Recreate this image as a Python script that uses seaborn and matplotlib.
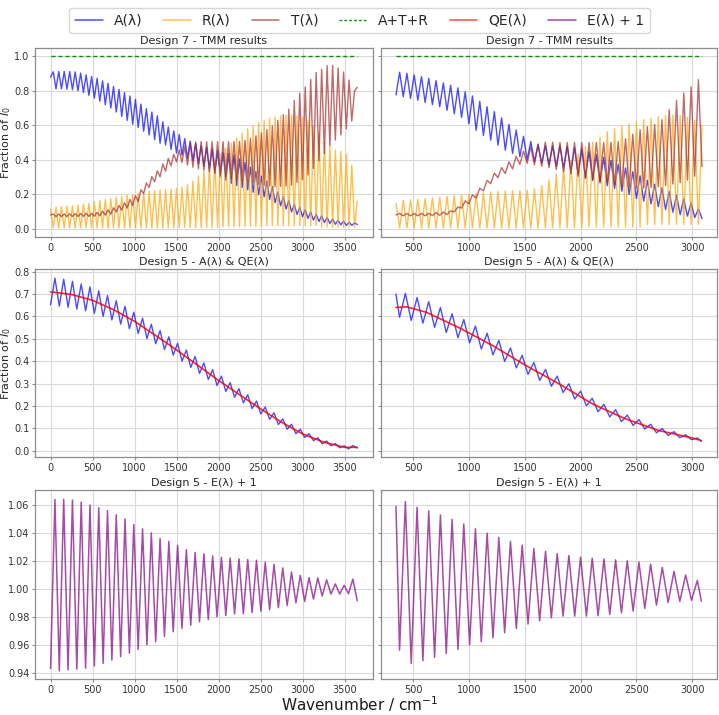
import numpy as np
import matplotlib
matplotlib.use("Agg")
import matplotlib.pyplot as plt
import seaborn as sns
from matplotlib.lines import Line2D

# ---------------- Design 7 (TMM) - left panel, 0..3650 cm-1 ----------------
# values read at successive fringe extrema (odd = A/T peak, R trough; even = A/T trough, R peak)
d7L_span = [0, 3650]
d7L_npts = 113
A7L_start, A7L_end = 0.88, 0.025
A7L_peaks = [.910, .912, .912, .912, .910, .903, .893, .883, .872, .858, .844, .825, .808, .790,
             .770, .750, .723, .697, .677, .655, .620, .590, .568, .547, .523, .508, .495, .481,
             .472, .462, .452, .444, .436, .428, .405, .385, .357, .333, .305, .277, .245, .213,
             .186, .164, .142, .125, .111, .097, .085, .075, .066, .057, .050, .044, .038, .034]
A7L_troughs = [.811, .811, .810, .806, .800, .790, .774, .757, .740, .719, .700, .677, .652, .629,
               .606, .588, .566, .544, .517, .496, .486, .460, .439, .427, .408, .396, .380, .364,
               .345, .323, .303, .283, .264, .251, .240, .226, .212, .198, .185, .170, .151, .133,
               .115, .098, .083, .070, .060, .050, .042, .036, .030, .026, .023, .020, .020]
R7L_start, R7L_end = 0.115, 0.16
R7L_troughs = [.005, .005, .005, .005, .005, .005, .005, .005, .005, .005, .005, .005, .005, .005,
               .005, .005, .005, .005, .005, .005, .005, .005, .005, .008, .008, .008, .008, .008,
               .008, .008, .008, .012, .012, .012, .012, .012, .012, .012, .012, .018, .018, .018,
               .018, .018, .018, .018, .018, .018, .018, .010, .010, .010, .010, .010, .010, .010]
R7L_peaks = [.125, .128, .131, .134, .138, .143, .148, .155, .163, .169, .175, .182, .188, .193,
             .198, .203, .209, .216, .221, .225, .228, .231, .235, .241, .255, .275, .305, .335,
             .365, .400, .435, .465, .495, .527, .555, .580, .598, .615, .628, .640, .648, .655,
             .658, .660, .655, .645, .628, .598, .555, .505, .472, .456, .448, .430, .370]
T7L_start, T7L_end = 0.08, 0.82
T7L_peaks = [.085, .086, .086, .087, .088, .089, .090, .090, .094, .102, .110, .122, .135, .151,
             .170, .192, .226, .266, .302, .336, .376, .408, .432, .458, .480, .496, .503, .505,
             .505, .505, .505, .505, .505, .505, .506, .512, .524, .539, .556, .575, .597, .628,
             .662, .694, .744, .787, .822, .866, .906, .925, .946, .947, .932, .909, .862, .800]
T7L_troughs = [.070, .070, .070, .071, .071, .072, .072, .073, .075, .079, .085, .098, .108, .120,
               .135, .158, .205, .240, .272, .302, .334, .365, .388, .384, .370, .357, .348, .340,
               .332, .322, .312, .302, .292, .285, .280, .274, .266, .258, .252, .248, .245, .246,
               .248, .253, .268, .285, .312, .350, .395, .435, .480, .515, .545, .580, .625]

# ---------------- Design 7 (TMM) - right panel, 345..3089 cm-1 ----------------
d7R_span = [345, 3089]
d7R_npts = 85
A7R_start, A7R_end = 0.776, 0.06
A7R_peaks = [.908, .901, .892, .882, .872, .859, .846, .832, .817, .794, .770, .739, .708, .679,
             .643, .605, .573, .536, .506, .487, .481, .480, .479, .476, .470, .461, .447, .430,
             .414, .397, .374, .353, .331, .307, .281, .258, .237, .216, .195, .174, .150, .115]
A7R_troughs = [.766, .756, .745, .733, .720, .707, .687, .667, .646, .609, .571, .541, .514, .485,
               .456, .437, .418, .400, .389, .380, .371, .362, .350, .335, .315, .296, .281, .266,
               .250, .234, .218, .199, .176, .160, .144, .128, .112, .096, .082, .073, .065]
R7R_start, R7R_end = 0.147, 0.60
R7R_troughs = [.005, .005, .005, .005, .005, .005, .005, .005, .005, .005, .005, .005, .005, .005,
               .005, .005, .005, .005, .005, .005, .005, .005, .005, .005, .005, .005, .010, .010,
               .010, .010, .010, .010, .010, .010, .025, .025, .025, .025, .025, .025, .025, .025]
R7R_peaks = [.165, .168, .171, .175, .179, .183, .188, .192, .196, .200, .204, .209, .214, .217,
             .219, .220, .222, .224, .232, .250, .282, .318, .360, .397, .434, .476, .503, .532,
             .563, .581, .596, .608, .620, .633, .641, .650, .657, .660, .657, .645, .630]
T7R_start, T7R_end = 0.08, 0.36
T7R_peaks = [.089, .089, .089, .090, .090, .094, .097, .104, .126, .162, .197, .235, .280, .322,
             .355, .388, .420, .450, .476, .492, .503, .502, .500, .500, .500, .500, .500, .500,
             .500, .501, .505, .522, .549, .574, .592, .605, .632, .690, .744, .788, .823, .865]
T7R_troughs = [.075, .075, .075, .075, .076, .078, .083, .098, .120, .145, .178, .220, .262, .297,
               .320, .347, .373, .380, .370, .362, .354, .344, .331, .318, .305, .291, .284, .276,
               .267, .256, .248, .241, .235, .236, .239, .244, .251, .259, .267, .282, .305]
ATR_value = [1.0, 1.0]

# ---------------- Design 5 - left, 0..3650 cm-1 ----------------
d5L_span = [0, 3650]
d5L_npts = 71
A5L_start, A5L_end = 0.652, 0.012
A5L_peaks = [.771, .766, .757, .745, .732, .714, .693, .670, .645, .619, .592, .565, .537, .509,
             .480, .450, .421, .392, .362, .333, .304, .277, .250, .222, .195, .169, .142, .118,
             .095, .076, .058, .043, .032, .022, .023]
A5L_troughs = [.646, .641, .633, .625, .614, .600, .584, .566, .545, .524, .501, .478, .452, .427,
               .400, .372, .345, .318, .291, .265, .239, .214, .188, .164, .140, .117, .096, .076,
               .059, .045, .031, .022, .013, .008]
QE5L_x = [0, 250, 500, 750, 1000, 1250, 1500, 1750, 2000, 2250, 2500, 2750, 3000, 3250, 3500, 3650]
QE5L = [0.710, 0.698, 0.672, 0.630, 0.578, 0.515, 0.450, 0.382, 0.314, 0.250, 0.187, 0.127,
        0.075, 0.038, 0.015, 0.015]
E5L_start, E5L_end = 0.943, 0.9915
E5L_peaks = [1.064, 1.064, 1.0635, 1.062, 1.060, 1.058, 1.056, 1.053, 1.050, 1.046, 1.043, 1.040,
             1.036, 1.034, 1.031, 1.028, 1.026, 1.025, 1.0235, 1.0225, 1.022, 1.0215, 1.021,
             1.0205, 1.019, 1.0175, 1.015, 1.012, 1.0097, 1.008, 1.0078, 1.0065, 1.0035, 1.0025,
             1.007]
E5L_troughs = [0.9414, 0.942, 0.9426, 0.9433, 0.9448, 0.9467, 0.949, 0.9515, 0.954, 0.9567, 0.960,
               0.9622, 0.966, 0.9693, 0.9717, 0.974, 0.9765, 0.978, 0.980, 0.981, 0.982, 0.9822,
               0.983, 0.984, 0.985, 0.9865, 0.988, 0.990, 0.991, 0.9927, 0.9949, 0.9963, 0.9963,
               0.9965]

# ---------------- Design 5 - right, 345..3083 cm-1 ----------------
d5R_ends = [345, 3083]
d5R_extrema_span = [377, 3047]
d5R_nextrema = 52
A5R_start, A5R_end = 0.700, 0.042
A5R_troughs = [.596, .582, .570, .551, .528, .505, .482, .454, .428, .399, .370, .341, .314, .288,
               .260, .231, .201, .174, .151, .130, .113, .097, .080, .068, .058, .049]
A5R_peaks = [.703, .684, .666, .640, .612, .586, .557, .525, .493, .459, .426, .394, .363, .333,
             .299, .266, .234, .207, .183, .159, .139, .118, .099, .085, .071, .057]
QE5R_x = [345, 440, 619, 917, 1214, 1512, 1810, 2107, 2405, 2702, 3000, 3083]
QE5R = [0.640, 0.643, 0.618, 0.548, 0.469, 0.380, 0.298, 0.209, 0.142, 0.090, 0.057, 0.045]
E5R_start, E5R_end = 1.059, 0.9913
E5R_troughs = [0.9562, 0.9467, 0.9486, 0.951, 0.9538, 0.9567, 0.960, 0.9622, 0.965, 0.9686,
               0.9717, 0.9748, 0.9772, 0.9793, 0.9805, 0.9805, 0.9805, 0.9808, 0.9817, 0.9829,
               0.9841, 0.986, 0.9884, 0.9903, 0.991, 0.9918]
E5R_peaks = [1.0624, 1.0583, 1.0557, 1.0528, 1.0497, 1.0464, 1.043, 1.0398, 1.0368, 1.034,
             1.0312, 1.0288, 1.0268, 1.0252, 1.0238, 1.0227, 1.0219, 1.0213, 1.0207, 1.02,
             1.0191, 1.0176, 1.0153, 1.0125, 1.0099, 1.006]

titles = ["Design 7 - TMM results", "Design 5 - A(λ) & QE(λ)", "Design 5 - E(λ) + 1"]
legend_labels = ["A(λ)", "R(λ)", "T(λ)", "A+T+R", "QE(λ)", "E(λ) + 1"]
left_ticks = [0, 500, 1000, 1500, 2000, 2500, 3000, 3500]
right_ticks = [500, 1000, 1500, 2000, 2500, 3000]


def weave(start, odd, even, end):
    out = [start]
    for i, v in enumerate(odd):
        out.append(v)
        if i < len(even):
            out.append(even[i])
    out.append(end)
    return np.array(out)


x7L = np.linspace(d7L_span[0], d7L_span[1], d7L_npts)
x7R = np.linspace(d7R_span[0], d7R_span[1], d7R_npts)
x5L = np.linspace(d5L_span[0], d5L_span[1], d5L_npts)
x5R = np.concatenate([[d5R_ends[0]],
                      np.linspace(d5R_extrema_span[0], d5R_extrema_span[1], d5R_nextrema),
                      [d5R_ends[1]]])

sns.set_theme(style="whitegrid", rc={
    "axes.edgecolor": "0.55", "axes.linewidth": 0.9,
    "grid.color": "0.85", "grid.linewidth": 0.8,
    "xtick.bottom": True, "ytick.left": True,
    "xtick.major.size": 2.5, "ytick.major.size": 2.5,
    "xtick.major.width": 0.8, "ytick.major.width": 0.8,
    "xtick.color": "0.55", "ytick.color": "0.55",
    "xtick.labelcolor": "0.2", "ytick.labelcolor": "0.2",
    "xtick.major.pad": 1.5, "ytick.major.pad": 1.5,
    "xtick.labelsize": 7, "ytick.labelsize": 7,
})
plt.rcParams["font.family"] = ["DejaVu Sans"]

C_A, C_R, C_T, C_G, C_QE, C_E = "#0000ff", "#ffa500", "#a52a2a", "#008000", "#ff0000", "#800080"
AL = 0.7

fig = plt.figure(figsize=(7.19, 7.15), dpi=100)
W, H = 719.0, 715.0
cols = [(35.2, 372.6), (380.7, 717.3)]
rows = [(47.7, 237.4), (269.3, 457.4), (490.0, 679.3)]
axes = [[None, None] for _ in range(3)]
for r, (yt, yb) in enumerate(rows):
    for c, (xl, xr) in enumerate(cols):
        axes[r][c] = fig.add_axes([xl / W, 1 - yb / H, (xr - xl) / W, (yb - yt) / H])


def line(ax, x, y, color, lw=1.0, alpha=AL, **kw):
    sns.lineplot(x=np.asarray(x, float), y=np.asarray(y, float), ax=ax, color=color,
                 linewidth=lw, alpha=alpha, estimator=None, sort=False, legend=False, **kw)


# Row 1: Design 7
for c, (x, A, R, T, span) in enumerate([
    (x7L, weave(A7L_start, A7L_peaks, A7L_troughs, A7L_end),
     weave(R7L_start, R7L_troughs, R7L_peaks, R7L_end),
     weave(T7L_start, T7L_peaks, T7L_troughs, T7L_end), d7L_span),
    (x7R, weave(A7R_start, A7R_peaks, A7R_troughs, A7R_end),
     weave(R7R_start, R7R_troughs, R7R_peaks, R7R_end),
     weave(T7R_start, T7R_peaks, T7R_troughs, T7R_end), d7R_span)]):
    ax = axes[0][c]
    line(ax, x, A, C_A)
    line(ax, x, R, C_R)
    line(ax, x, T, C_T)
    line(ax, span, ATR_value, C_G, lw=1.0, alpha=0.9, linestyle=(0, (3, 2)))
    ax.set_ylim(-0.05, 1.05)
    ax.set_yticks([0.0, 0.2, 0.4, 0.6, 0.8, 1.0])

# Row 2: Design 5 A & QE
line(axes[1][0], x5L, weave(A5L_start, A5L_peaks, A5L_troughs, A5L_end), C_A)
line(axes[1][0], QE5L_x, QE5L, C_QE, lw=1.2, alpha=0.85)
line(axes[1][1], x5R, weave(A5R_start, A5R_troughs, A5R_peaks, A5R_end), C_A)
line(axes[1][1], QE5R_x, QE5R, C_QE, lw=1.2, alpha=0.85)
for ax in axes[1]:
    ax.set_ylim(-0.03, 0.8105)
    ax.set_yticks([0.0, 0.1, 0.2, 0.3, 0.4, 0.5, 0.6, 0.7, 0.8])

# Row 3: Design 5 E + 1
line(axes[2][0], x5L, weave(E5L_start, E5L_peaks, E5L_troughs, E5L_end), C_E, lw=1.1)
line(axes[2][1], x5R, weave(E5R_start, E5R_troughs, E5R_peaks, E5R_end), C_E, lw=1.1)
for ax in axes[2]:
    ax.set_ylim(0.9353, 1.0707)
    ax.set_yticks([0.94, 0.96, 0.98, 1.00, 1.02, 1.04, 1.06])

for r in range(3):
    for c in range(2):
        ax = axes[r][c]
        ax.set_xlabel("")
        ax.set_ylabel("")
        ax.set_title(titles[r], fontsize=8, pad=3, color="0.15")
        if c == 0:
            ax.set_xlim(-182.5, 3832.5)
            ax.set_xticks(left_ticks)
        else:
            ax.set_xlim(208, 3226)
            ax.set_xticks(right_ticks)
            ax.tick_params(axis="y", labelleft=False)
        for s in ax.spines.values():
            s.set_color("0.55")

axes[0][0].set_ylabel("Fraction of $I_0$", fontsize=8, color="0.15", labelpad=1)
axes[1][0].set_ylabel("Fraction of $I_0$", fontsize=8, color="0.15", labelpad=1)

fig.text(0.5, 0.015, "Wavenumber / cm$^{-1}$", fontsize=11, ha="center", va="center", color="0.1")

handles = [Line2D([], [], color=C_A, alpha=AL, lw=1.1),
           Line2D([], [], color=C_R, alpha=AL, lw=1.1),
           Line2D([], [], color=C_T, alpha=AL, lw=1.1),
           Line2D([], [], color=C_G, alpha=0.9, lw=1.0, linestyle=(0, (2, 1.5))),
           Line2D([], [], color=C_QE, alpha=AL, lw=1.1),
           Line2D([], [], color=C_E, alpha=AL, lw=1.1)]
fig.legend(handles, legend_labels, loc="upper center", bbox_to_anchor=(0.5, 0.998), ncol=6,
           fontsize=10, columnspacing=1.5, frameon=True, edgecolor="0.8", fancybox=True,
           handlelength=2.0)

fig.savefig("out.png", dpi=100)
